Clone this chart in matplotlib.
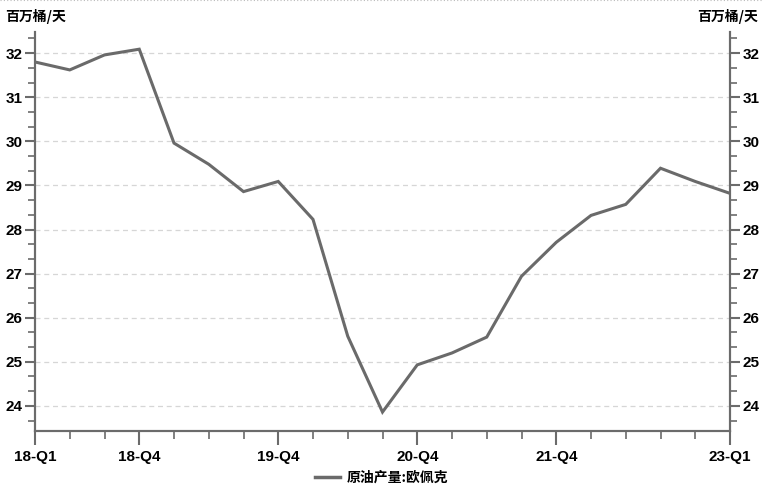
import numpy as np
import matplotlib
matplotlib.use("Agg")
import matplotlib.pyplot as plt
from matplotlib.ticker import MultipleLocator, FixedLocator
from matplotlib.lines import Line2D

plt.rcParams['font.family'] = ['Noto Sans CJK SC', 'DejaVu Sans']
num_font = ['Liberation Sans', 'DejaVu Sans']

# quarters 18-Q1 .. 23-Q1
quarters = ["18-Q1", "18-Q2", "18-Q3", "18-Q4", "19-Q1", "19-Q2", "19-Q3", "19-Q4",
            "20-Q1", "20-Q2", "20-Q3", "20-Q4", "21-Q1", "21-Q2", "21-Q3", "21-Q4",
            "22-Q1", "22-Q2", "22-Q3", "22-Q4", "23-Q1"]
opec = [31.80, 31.62, 31.96, 32.09, 29.96, 29.48, 28.86, 29.09, 28.23, 25.58, 23.86,
        24.93, 25.20, 25.56, 26.94, 27.71, 28.32, 28.57, 29.39, 29.09, 28.82]
label_quarters = ["18-Q1", "18-Q4", "19-Q4", "20-Q4", "21-Q4", "23-Q1"]
series_name = "原油产量:欧佩克"
unit = "百万桶/天"

axis_col = "#6b6b6b"
line_col = "#6a6a6a"

fig = plt.figure(figsize=(7.63, 4.91), dpi=100)
ax = fig.add_axes([35/763, 1-431/491, (730-35)/763, (431-32)/491])
ax2 = ax.twinx()

x = np.arange(len(quarters))
ax.plot(x, opec, color=line_col, lw=2.2, solid_joinstyle='miter')

ax.set_xlim(0, len(quarters)-1)
ymin, ymax = 23.43, 32.48
ax.set_ylim(ymin, ymax)
ax2.set_ylim(ymin, ymax)

for a in (ax, ax2):
    a.spines['top'].set_visible(False)
    for s in ('left', 'right', 'bottom'):
        a.spines[s].set_color(axis_col)
        a.spines[s].set_linewidth(1.5)
    a.yaxis.set_major_locator(MultipleLocator(1))
    a.yaxis.set_minor_locator(MultipleLocator(1/3))
    a.tick_params(axis='y', which='major', length=7, width=1.5, color=axis_col,
                  labelsize=11, pad=2)
    a.tick_params(axis='y', which='minor', length=5, width=1.2, color=axis_col)
    for t in a.get_yticklabels():
        t.set_fontweight('bold')
        t.set_family(num_font)

ax.yaxis.grid(True, which='major', ls=(0, (4, 3)), color='#d6d6d6', lw=0.9)

major_pos = [quarters.index(q) for q in label_quarters]
ax.xaxis.set_major_locator(FixedLocator(major_pos))
ax.set_xticklabels(label_quarters, fontweight='bold', family=num_font)
ax.xaxis.set_minor_locator(FixedLocator([i for i in x if i not in major_pos]))
ax.tick_params(axis='x', which='major', length=10, width=1.5, color=axis_col,
               labelsize=11, pad=4)
ax.tick_params(axis='x', which='minor', length=6, width=1.2, color=axis_col)

fig.text(5/763, 1-17/491, unit, fontsize=10, fontweight='bold', va='center', ha='left')
fig.text(758/763, 1-17/491, unit, fontsize=10, fontweight='bold', va='center', ha='right')

# dotted border line at the top of the image
fig.add_artist(Line2D([0, 1], [0.999, 0.999], transform=fig.transFigure,
                      color='#bbbbbb', lw=0.8, ls=(0, (1, 2))))

handle = Line2D([], [], color=line_col, lw=2.5)
fig.legend([handle], [series_name], loc='center', bbox_to_anchor=(0.5, 1-478/491),
           frameon=False, handlelength=1.8, handletextpad=0.5,
           prop={'weight': 'bold', 'size': 10})

fig.savefig("out.png", dpi=100)
